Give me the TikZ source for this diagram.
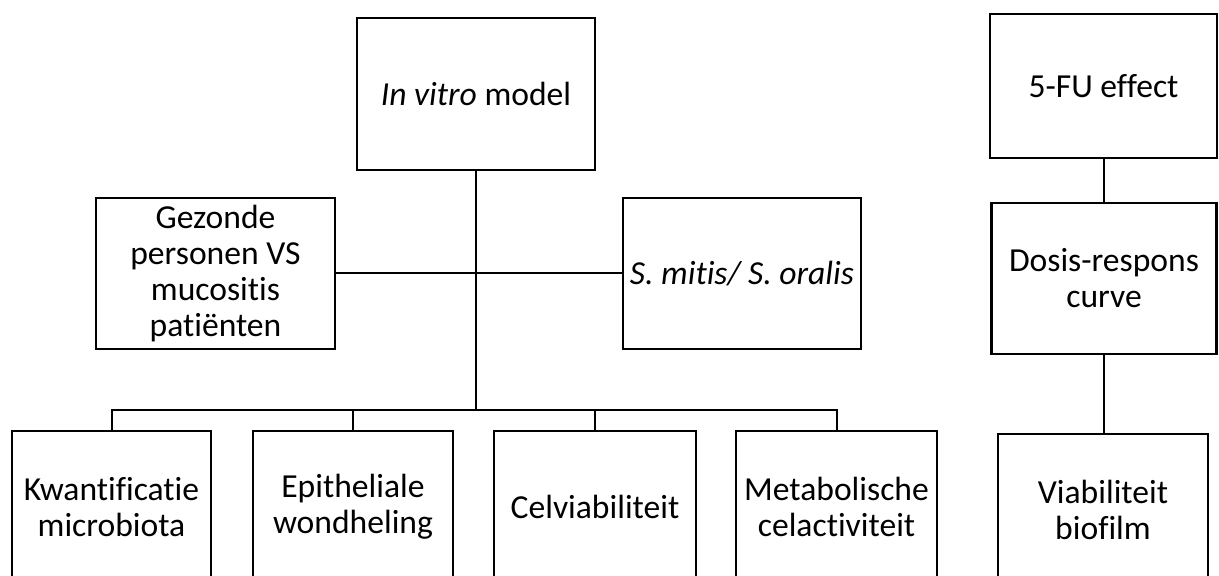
\documentclass[tikz,border=0pt]{standalone}
\usepackage{fontspec}
\setmainfont{Carlito}[Ligatures={NoCommon}]
\begin{document}
\begin{tikzpicture}[x=0.5pt,y=-0.5pt,
  box/.style={draw=black,line width=1.3pt,fill=white,align=center,inner sep=0pt,
    font=\fontsize{16.8pt}{18pt}\selectfont},
  conn/.style={draw=black,line width=1pt}]
\useasboundingbox (0,0) rectangle (1219,576);
\clip (0,0) rectangle (1219,576);
% left tree
\node[box,minimum width=119pt,minimum height=76pt] (vitro) at (476,94) {\textit{In vitro} model};
\node[box,minimum width=119.5pt,minimum height=75.5pt] (gez) at (215.5,273.5) {Gezonde\\personen VS\\mucositis\\patiënten};
\node[box,minimum width=119pt,minimum height=75.5pt] (mitis) at (742,273.5) {\textit{S. mitis/ S. oralis}};
\node[box,minimum width=99.5pt,minimum height=76pt] (kwant) at (111.5,507) {Kwantificatie\\microbiota};
\node[box,minimum width=100pt,minimum height=76pt] (epi) at (353,507) {Epitheliale\\wondheling};
\node[box,minimum width=101pt,minimum height=76pt] (cel) at (595,507) {Celviabiliteit};
\node[box,minimum width=100.5pt,minimum height=76pt] (meta) at (836.5,507) {Metabolische\\celactiviteit};
\coordinate (bus) at (476,410);
\draw[conn] (vitro.south) -- (bus);
\draw[conn] (gez.east) -- (mitis.west);
\draw[conn] (kwant.north) |- (bus);
\draw[conn] (meta.north) |- (bus);
\draw[conn] (epi.north) -- (epi.north |- bus);
\draw[conn] (cel.north) -- (cel.north |- bus);
% right column
\node[box,minimum width=113.5pt,minimum height=72pt] (fu) at (1103.5,86) {5-FU effect};
\node[box,minimum width=112.5pt,minimum height=75.5pt] (dosis) at (1104,278.5) {Dosis-respons\\curve};
\node[box,minimum width=105pt,minimum height=76pt] (viab) at (1103,510) {Viabiliteit\\biofilm};
\draw[conn] (fu.south) -- (fu.south |- dosis.north);
\draw[conn] (dosis.south) -- (dosis.south |- viab.north);
\end{tikzpicture}
\end{document}
